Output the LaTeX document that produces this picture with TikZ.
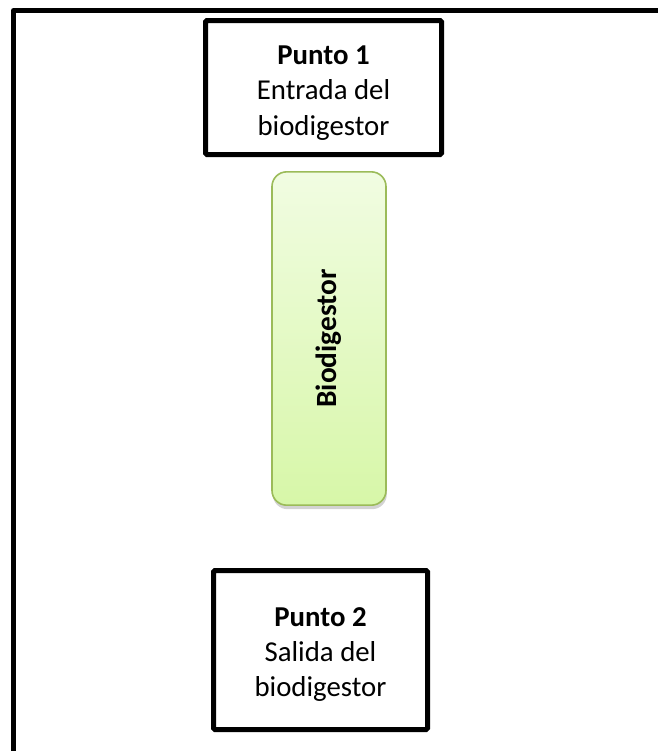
\documentclass[tikz,border=0pt]{standalone}
\usepackage{fontspec}
\setmainfont{Carlito}
\usepackage{xcolor}
\usepackage{tikz}
\usetikzlibrary{shadows}
\definecolor{biotop}{HTML}{F1FCE2}
\definecolor{biobottom}{HTML}{D7F7A8}
\definecolor{bioline}{HTML}{9BBB59}

\begin{document}
\begin{tikzpicture}[x=0.75pt,y=-0.75pt,
    punto/.style={draw,line width=3.75pt,rounded corners=1pt,align=center,
      font=\fontsize{21.6}{26.5}\selectfont,inner sep=0pt},
    tanque/.style={draw=bioline,line width=1.2pt,rounded corners=11pt,
      top color=biotop,bottom color=biobottom,
      drop shadow={shadow xshift=0.6pt,shadow yshift=-3pt,opacity=0.35},
      minimum width=85.5pt,minimum height=250pt,inner sep=0pt}]
    \useasboundingbox (0,0) rectangle (658,751);
    % marco
    \coordinate (marcoA) at (13.5,751);
    \coordinate (marcoB) at (13.5,10.5);
    \coordinate (marcoC) at (658,10.5);
    \draw[line width=3.75pt,line join=round] (marcoA) -- (marcoB) -- (marcoC);
    \node[punto,minimum width=177pt,minimum height=100.5pt] (p1) at (323.5,87.5)
      {\rule{0pt}{22pt}\textbf{Punto 1}\\Entrada del\\biodigestor};
    \node[tanque] (bio) at (329,338.5) {};
    \node[rotate=90,font=\fontsize{22}{26}\selectfont\bfseries] (biolabel) at (bio.center) {Biodigestor};
    \node[punto,minimum width=160.5pt,minimum height=119.25pt] (p2) at (320.5,650)
      {\rule{0pt}{21pt}\textbf{Punto 2}\\Salida del\\biodigestor};
  \end{tikzpicture}
\end{document}
